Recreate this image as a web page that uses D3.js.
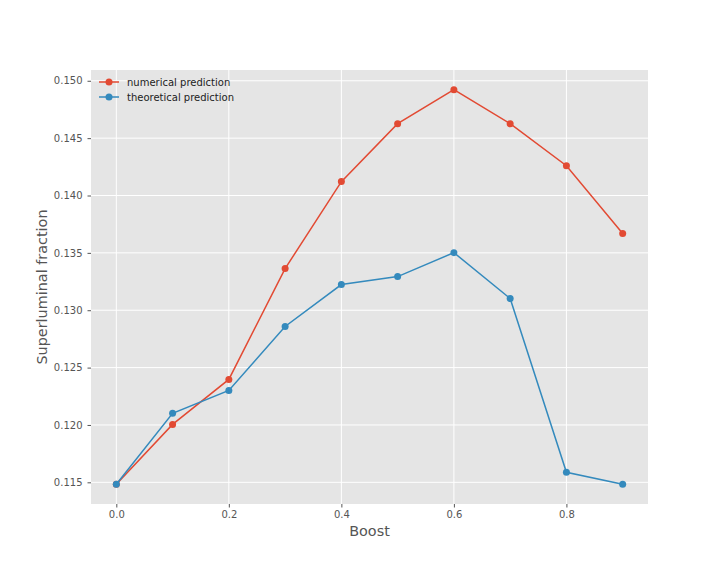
<!DOCTYPE html>
<html>
<head>
<meta charset="utf-8">
<script src="https://cdn.jsdelivr.net/npm/d3@7"></script>
<style>
  body { margin: 0; background: #fff; }
  text { font-family: "DejaVu Sans", sans-serif; }
</style>
</head>
<body>
<div id="chart"></div>
<script>
const boost = [0.0, 0.1, 0.2, 0.3, 0.4, 0.5, 0.6, 0.7, 0.8, 0.9];
const numerical = [0.11483, 0.12005, 0.12397, 0.13363, 0.14121, 0.14626, 0.14922, 0.14626, 0.14260, 0.13668];
const theoretical = [0.11483, 0.12101, 0.12301, 0.12858, 0.13224, 0.13293, 0.13502, 0.13102, 0.11587, 0.11483];
const xTicks = [0.0, 0.2, 0.4, 0.6, 0.8];
const yTicks = [0.115, 0.120, 0.125, 0.130, 0.135, 0.140, 0.145, 0.150];

const series = [
  { name: "numerical prediction", values: numerical, color: "#E24A33" },
  { name: "theoretical prediction", values: theoretical, color: "#348ABD" }
];

const W = 720, H = 576;
const margin = { top: 70, right: 72, bottom: 72, left: 91 };
const width = W - margin.left - margin.right;
const height = H - margin.top - margin.bottom;

const svg = d3.select("#chart").append("svg")
    .attr("width", W).attr("height", H);
const g = svg.append("g").attr("transform", `translate(${margin.left},${margin.top})`);

// matplotlib style 5% padding
const xPad = (d3.max(boost) - d3.min(boost)) * 0.05;
const allY = numerical.concat(theoretical);
const yPad = (d3.max(allY) - d3.min(allY)) * 0.05;
const x = d3.scaleLinear().domain([d3.min(boost) - xPad, d3.max(boost) + xPad]).range([0, width]);
const y = d3.scaleLinear().domain([d3.min(allY) - yPad, d3.max(allY) + yPad]).range([height, 0]);

g.append("rect").attr("width", width).attr("height", height).attr("fill", "#E5E5E5");

// grid
g.selectAll("line.gx").data(xTicks).enter().append("line")
    .attr("x1", d => x(d)).attr("x2", d => x(d)).attr("y1", 0).attr("y2", height)
    .attr("stroke", "#fff").attr("stroke-width", 1);
g.selectAll("line.gy").data(yTicks).enter().append("line")
    .attr("y1", d => y(d)).attr("y2", d => y(d)).attr("x1", 0).attr("x2", width)
    .attr("stroke", "#fff").attr("stroke-width", 1);

// axes
const xAxis = g.append("g").attr("transform", `translate(0,${height})`)
    .call(d3.axisBottom(x).tickValues(xTicks).tickFormat(d3.format(".1f")).tickSize(3.5).tickPadding(3.5));
const yAxis = g.append("g")
    .call(d3.axisLeft(y).tickValues(yTicks).tickFormat(d3.format(".3f")).tickSize(3.5).tickPadding(5));
[xAxis, yAxis].forEach(a => {
  a.select(".domain").remove();
  a.selectAll(".tick line").attr("stroke", "#555");
  a.selectAll(".tick text").attr("fill", "#555").style("font-size", "10px");
});

// lines + markers
const line = d3.line().x((d, i) => x(boost[i])).y(d => y(d));
series.forEach(s => {
  g.append("path").datum(s.values).attr("d", line)
      .attr("fill", "none").attr("stroke", s.color).attr("stroke-width", 1.5);
  g.selectAll(null).data(s.values).enter().append("circle")
      .attr("cx", (d, i) => x(boost[i])).attr("cy", d => y(d)).attr("r", 3.5)
      .attr("fill", s.color);
});

// axis labels
svg.append("text").attr("x", margin.left + width / 2).attr("y", 536)
    .attr("text-anchor", "middle").attr("fill", "#555").style("font-size", "14.4px").text("Boost");
svg.append("text").attr("transform", `translate(47,${margin.top + height / 2}) rotate(-90)`)
    .attr("text-anchor", "middle").attr("fill", "#555").style("font-size", "14.4px").text("Superluminal fraction");

// legend
const legend = g.append("g").attr("transform", "translate(8,12)");
series.forEach((s, i) => {
  const row = legend.append("g").attr("transform", `translate(0,${i * 15})`);
  row.append("line").attr("x1", 0).attr("x2", 20).attr("stroke", s.color).attr("stroke-width", 1.5);
  row.append("circle").attr("cx", 10).attr("r", 3.5).attr("fill", s.color);
  row.append("text").attr("x", 28).attr("dy", "0.35em").attr("fill", "#222")
      .style("font-size", "10px").text(s.name);
});
</script>
</body>
</html>
